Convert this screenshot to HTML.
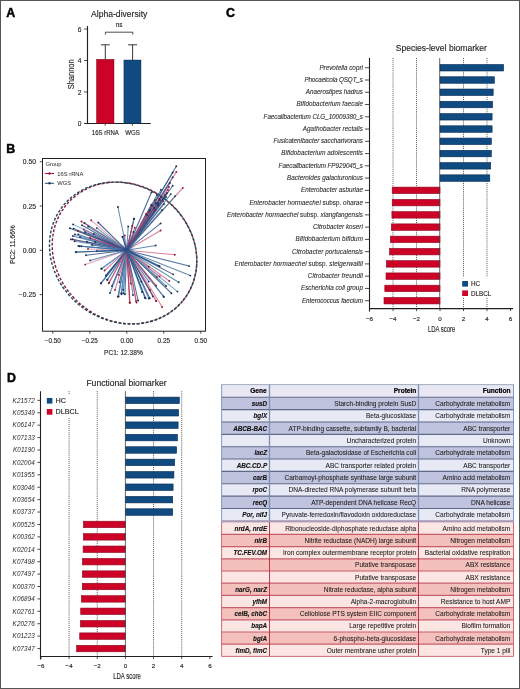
<!DOCTYPE html>
<html><head><meta charset="utf-8"><style>
html,body{margin:0;padding:0;background:#fff;}
body{width:520px;height:689px;overflow:hidden;position:relative;}
svg{position:absolute;left:0;top:0;font-family:"Liberation Sans", sans-serif;will-change:transform;}
.frame{position:absolute;left:0;top:0;width:518px;height:687px;border:1px solid #555;}
</style></head><body>
<svg width="520" height="689" viewBox="0 0 520 689">
<rect x="0" y="0" width="520" height="689" fill="#fff"/>
<text x="6.30" y="16.90" font-size="12.4" text-anchor="start" font-weight="bold" font-style="normal" fill="#000" stroke="#000" stroke-width="0.45">A</text>
<text x="6.30" y="152.60" font-size="12.4" text-anchor="start" font-weight="bold" font-style="normal" fill="#000" stroke="#000" stroke-width="0.45">B</text>
<text x="226.10" y="17.00" font-size="12.4" text-anchor="start" font-weight="bold" font-style="normal" fill="#000" stroke="#000" stroke-width="0.45">C</text>
<text x="7.00" y="381.90" font-size="12.4" text-anchor="start" font-weight="bold" font-style="normal" fill="#000" stroke="#000" stroke-width="0.45">D</text>
<text x="119.20" y="17.00" font-size="8.6" text-anchor="middle" font-weight="normal" font-style="normal" fill="#231f20"  stroke="#231f20" stroke-width="0.14">Alpha-diversity</text>
<line x1="87.50" y1="26.00" x2="87.50" y2="124.10" stroke="#231f20" stroke-width="1.15" />
<line x1="84.70" y1="123.50" x2="150.80" y2="123.50" stroke="#231f20" stroke-width="1.15" />
<line x1="84.00" y1="123.50" x2="87.00" y2="123.50" stroke="#231f20" stroke-width="0.8" />
<text x="81.40" y="126.10" font-size="6.7" text-anchor="end" font-weight="normal" font-style="normal" fill="#231f20"  stroke="#231f20" stroke-width="0.14">0</text>
<line x1="84.00" y1="92.00" x2="87.00" y2="92.00" stroke="#231f20" stroke-width="0.8" />
<text x="81.40" y="94.60" font-size="6.7" text-anchor="end" font-weight="normal" font-style="normal" fill="#231f20"  stroke="#231f20" stroke-width="0.14">2</text>
<line x1="84.00" y1="60.50" x2="87.00" y2="60.50" stroke="#231f20" stroke-width="0.8" />
<text x="81.40" y="63.10" font-size="6.7" text-anchor="end" font-weight="normal" font-style="normal" fill="#231f20"  stroke="#231f20" stroke-width="0.14">4</text>
<line x1="84.00" y1="29.00" x2="87.00" y2="29.00" stroke="#231f20" stroke-width="0.8" />
<text x="81.40" y="31.60" font-size="6.7" text-anchor="end" font-weight="normal" font-style="normal" fill="#231f20"  stroke="#231f20" stroke-width="0.14">6</text>
<text x="0.00" y="0.00" font-size="9.8" text-anchor="middle" font-weight="normal" font-style="normal" fill="#231f20" textLength="30.0" lengthAdjust="spacingAndGlyphs" transform="translate(73.6,74.3) rotate(-90)" stroke="#231f20" stroke-width="0.14">Shannon</text>
<rect x="96.50" y="59.30" width="17.50" height="64.20" fill="#cc0226" stroke="#5a0010" stroke-width="0.4"/>
<rect x="123.90" y="60.00" width="17.10" height="63.50" fill="#0f4a80" stroke="#0a2a4a" stroke-width="0.4"/>
<line x1="105.30" y1="44.80" x2="105.30" y2="59.30" stroke="#231f20" stroke-width="0.9" />
<line x1="100.90" y1="44.80" x2="109.80" y2="44.80" stroke="#231f20" stroke-width="0.9" />
<line x1="132.60" y1="44.80" x2="132.60" y2="60.00" stroke="#231f20" stroke-width="0.9" />
<line x1="128.10" y1="44.80" x2="137.10" y2="44.80" stroke="#231f20" stroke-width="0.9" />
<line x1="105.20" y1="123.50" x2="105.20" y2="125.80" stroke="#231f20" stroke-width="0.8" />
<line x1="132.40" y1="123.50" x2="132.40" y2="125.80" stroke="#231f20" stroke-width="0.8" />
<text x="105.30" y="135.30" font-size="6.8" text-anchor="middle" font-weight="normal" font-style="normal" fill="#231f20" textLength="27" lengthAdjust="spacingAndGlyphs" stroke="#231f20" stroke-width="0.14">16S rRNA</text>
<text x="132.50" y="135.30" font-size="6.8" text-anchor="middle" font-weight="normal" font-style="normal" fill="#231f20" textLength="14.6" lengthAdjust="spacingAndGlyphs" stroke="#231f20" stroke-width="0.14">WGS</text>
<polyline points="105.4,34.6 105.4,32.2 132.8,32.2 132.8,34.6" fill="none" stroke="#231f20" stroke-width="0.8"/>
<text x="119.00" y="26.80" font-size="6.3" text-anchor="middle" font-weight="normal" font-style="normal" fill="#231f20"  stroke="#231f20" stroke-width="0.14">ns</text>
<ellipse cx="124.5" cy="253.0" rx="75.5" ry="67.5" transform="rotate(40 124.5 253.0)" fill="none" stroke="#8a1a40" stroke-width="1.4" stroke-dasharray="2.8 1.7"/>
<g transform="translate(197.5,0) scale(1.0186,1) translate(-197.5,0)"><ellipse cx="124.5" cy="253.0" rx="75.5" ry="67.5" transform="rotate(40 124.5 253.0)" fill="none" stroke="#1f4a58" stroke-width="1.4" stroke-dasharray="2.8 1.7" stroke-dashoffset="1.4"/></g>
<g>
<line x1="126.80" y1="250.30" x2="174.80" y2="254.80" stroke="#d0607f" stroke-width="1.05" stroke-opacity="0.8"/>
<line x1="126.80" y1="250.30" x2="133.80" y2="218.80" stroke="#3d6e9e" stroke-width="1.05" stroke-opacity="0.8"/>
<line x1="126.80" y1="250.30" x2="148.80" y2="281.60" stroke="#3d6e9e" stroke-width="1.05" stroke-opacity="0.8"/>
<line x1="126.80" y1="250.30" x2="172.70" y2="177.30" stroke="#1d3f78" stroke-width="1.05" stroke-opacity="0.8"/>
<line x1="126.80" y1="250.30" x2="176.30" y2="172.00" stroke="#d0607f" stroke-width="1.05" stroke-opacity="0.8"/>
<line x1="126.80" y1="250.30" x2="119.50" y2="282.30" stroke="#244a8a" stroke-width="1.05" stroke-opacity="0.8"/>
<line x1="126.80" y1="250.30" x2="121.30" y2="293.20" stroke="#244a8a" stroke-width="1.05" stroke-opacity="0.8"/>
<line x1="126.80" y1="250.30" x2="133.50" y2="232.00" stroke="#5a8fbf" stroke-width="1.05" stroke-opacity="0.8"/>
<line x1="126.80" y1="250.30" x2="130.00" y2="302.80" stroke="#b83058" stroke-width="1.05" stroke-opacity="0.8"/>
<line x1="126.80" y1="250.30" x2="78.00" y2="231.00" stroke="#c8507a" stroke-width="1.05" stroke-opacity="0.8"/>
<line x1="126.80" y1="250.30" x2="88.00" y2="249.00" stroke="#e08aa8" stroke-width="1.05" stroke-opacity="0.8"/>
<line x1="126.80" y1="250.30" x2="84.50" y2="223.00" stroke="#244a8a" stroke-width="1.05" stroke-opacity="0.8"/>
<line x1="126.80" y1="250.30" x2="147.00" y2="215.00" stroke="#2f7f96" stroke-width="1.05" stroke-opacity="0.8"/>
<line x1="126.80" y1="250.30" x2="190.30" y2="275.60" stroke="#3d6e9e" stroke-width="1.05" stroke-opacity="0.8"/>
<line x1="126.80" y1="250.30" x2="124.80" y2="235.40" stroke="#e08aa8" stroke-width="1.05" stroke-opacity="0.8"/>
<line x1="126.80" y1="250.30" x2="142.00" y2="292.00" stroke="#2f7f96" stroke-width="1.05" stroke-opacity="0.8"/>
<line x1="126.80" y1="250.30" x2="169.30" y2="281.00" stroke="#d0607f" stroke-width="1.05" stroke-opacity="0.8"/>
<line x1="126.80" y1="250.30" x2="106.00" y2="275.60" stroke="#244a8a" stroke-width="1.05" stroke-opacity="0.8"/>
<line x1="126.80" y1="250.30" x2="128.20" y2="226.50" stroke="#3b6fa0" stroke-width="1.05" stroke-opacity="0.8"/>
<line x1="126.80" y1="250.30" x2="78.30" y2="234.50" stroke="#3b6fa0" stroke-width="1.05" stroke-opacity="0.8"/>
<line x1="126.80" y1="250.30" x2="91.20" y2="220.30" stroke="#e08aa8" stroke-width="1.05" stroke-opacity="0.8"/>
<line x1="126.80" y1="250.30" x2="151.50" y2="204.70" stroke="#244a8a" stroke-width="1.05" stroke-opacity="0.8"/>
<line x1="126.80" y1="250.30" x2="118.60" y2="296.40" stroke="#3d6e9e" stroke-width="1.05" stroke-opacity="0.8"/>
<line x1="126.80" y1="250.30" x2="136.00" y2="301.10" stroke="#c8507a" stroke-width="1.05" stroke-opacity="0.8"/>
<line x1="126.80" y1="250.30" x2="149.80" y2="298.20" stroke="#1d3f78" stroke-width="1.05" stroke-opacity="0.8"/>
<line x1="126.80" y1="250.30" x2="107.40" y2="279.90" stroke="#5a8fbf" stroke-width="1.05" stroke-opacity="0.8"/>
<line x1="126.80" y1="250.30" x2="79.50" y2="246.20" stroke="#5a8fbf" stroke-width="1.05" stroke-opacity="0.8"/>
<line x1="126.80" y1="250.30" x2="156.90" y2="276.90" stroke="#d0607f" stroke-width="1.05" stroke-opacity="0.8"/>
<line x1="126.80" y1="250.30" x2="93.70" y2="233.80" stroke="#244a8a" stroke-width="1.05" stroke-opacity="0.8"/>
<line x1="126.80" y1="250.30" x2="117.90" y2="207.00" stroke="#3b6fa0" stroke-width="1.05" stroke-opacity="0.8"/>
<line x1="126.80" y1="250.30" x2="82.00" y2="225.20" stroke="#27497f" stroke-width="1.05" stroke-opacity="0.8"/>
<line x1="126.80" y1="250.30" x2="73.60" y2="228.60" stroke="#3d6e9e" stroke-width="1.05" stroke-opacity="0.8"/>
<line x1="126.80" y1="250.30" x2="101.70" y2="268.80" stroke="#3d6e9e" stroke-width="1.05" stroke-opacity="0.8"/>
<line x1="126.80" y1="250.30" x2="150.00" y2="290.00" stroke="#d0607f" stroke-width="1.05" stroke-opacity="0.8"/>
<line x1="126.80" y1="250.30" x2="158.00" y2="205.00" stroke="#5a8fbf" stroke-width="1.05" stroke-opacity="0.8"/>
<line x1="126.80" y1="250.30" x2="155.00" y2="210.00" stroke="#b83058" stroke-width="1.05" stroke-opacity="0.8"/>
<line x1="126.80" y1="250.30" x2="101.10" y2="283.40" stroke="#5a8fbf" stroke-width="1.05" stroke-opacity="0.8"/>
<line x1="126.80" y1="250.30" x2="178.70" y2="282.20" stroke="#2f7f96" stroke-width="1.05" stroke-opacity="0.8"/>
<line x1="126.80" y1="250.30" x2="144.80" y2="297.80" stroke="#2f7f96" stroke-width="1.05" stroke-opacity="0.8"/>
<line x1="126.80" y1="250.30" x2="101.20" y2="268.80" stroke="#5a8fbf" stroke-width="1.05" stroke-opacity="0.8"/>
<line x1="126.80" y1="250.30" x2="171.30" y2="293.20" stroke="#1d3f78" stroke-width="1.05" stroke-opacity="0.8"/>
<line x1="126.80" y1="250.30" x2="168.00" y2="190.00" stroke="#e08aa8" stroke-width="1.05" stroke-opacity="0.8"/>
<line x1="126.80" y1="250.30" x2="86.90" y2="241.80" stroke="#3d6e9e" stroke-width="1.05" stroke-opacity="0.8"/>
<line x1="126.80" y1="250.30" x2="112.00" y2="286.00" stroke="#244a8a" stroke-width="1.05" stroke-opacity="0.8"/>
<line x1="126.80" y1="250.30" x2="69.90" y2="228.30" stroke="#27497f" stroke-width="1.05" stroke-opacity="0.8"/>
<line x1="126.80" y1="250.30" x2="124.90" y2="294.20" stroke="#27497f" stroke-width="1.05" stroke-opacity="0.8"/>
<line x1="126.80" y1="250.30" x2="150.00" y2="210.00" stroke="#1d3f78" stroke-width="1.05" stroke-opacity="0.8"/>
<line x1="126.80" y1="250.30" x2="105.80" y2="275.60" stroke="#1d3f78" stroke-width="1.05" stroke-opacity="0.8"/>
<line x1="126.80" y1="250.30" x2="146.00" y2="214.00" stroke="#b83058" stroke-width="1.05" stroke-opacity="0.8"/>
<line x1="126.80" y1="250.30" x2="156.00" y2="300.90" stroke="#e08aa8" stroke-width="1.05" stroke-opacity="0.8"/>
<line x1="126.80" y1="250.30" x2="133.00" y2="295.00" stroke="#3d6e9e" stroke-width="1.05" stroke-opacity="0.8"/>
<line x1="126.80" y1="250.30" x2="170.00" y2="183.00" stroke="#27497f" stroke-width="1.05" stroke-opacity="0.8"/>
<line x1="126.80" y1="250.30" x2="83.80" y2="229.50" stroke="#b83058" stroke-width="1.05" stroke-opacity="0.8"/>
<line x1="126.80" y1="250.30" x2="121.50" y2="294.20" stroke="#5a8fbf" stroke-width="1.05" stroke-opacity="0.8"/>
<line x1="126.80" y1="250.30" x2="130.70" y2="283.60" stroke="#b83058" stroke-width="1.05" stroke-opacity="0.8"/>
<line x1="126.80" y1="250.30" x2="172.70" y2="172.50" stroke="#3b6fa0" stroke-width="1.05" stroke-opacity="0.8"/>
<line x1="126.80" y1="250.30" x2="176.30" y2="166.30" stroke="#244a8a" stroke-width="1.05" stroke-opacity="0.8"/>
<line x1="126.80" y1="250.30" x2="81.40" y2="246.20" stroke="#2f7f96" stroke-width="1.05" stroke-opacity="0.8"/>
<line x1="126.80" y1="250.30" x2="163.60" y2="296.40" stroke="#27497f" stroke-width="1.05" stroke-opacity="0.8"/>
<line x1="126.80" y1="250.30" x2="163.00" y2="201.00" stroke="#c8507a" stroke-width="1.05" stroke-opacity="0.8"/>
<line x1="126.80" y1="250.30" x2="148.80" y2="266.80" stroke="#c8507a" stroke-width="1.05" stroke-opacity="0.8"/>
<line x1="126.80" y1="250.30" x2="156.00" y2="203.00" stroke="#2f7f96" stroke-width="1.05" stroke-opacity="0.8"/>
<line x1="126.80" y1="250.30" x2="151.40" y2="204.90" stroke="#2f7f96" stroke-width="1.05" stroke-opacity="0.8"/>
<line x1="126.80" y1="250.30" x2="163.80" y2="297.00" stroke="#5a8fbf" stroke-width="1.05" stroke-opacity="0.8"/>
<line x1="126.80" y1="250.30" x2="141.40" y2="281.60" stroke="#27497f" stroke-width="1.05" stroke-opacity="0.8"/>
<line x1="126.80" y1="250.30" x2="170.80" y2="194.10" stroke="#3b6fa0" stroke-width="1.05" stroke-opacity="0.8"/>
<line x1="126.80" y1="250.30" x2="85.20" y2="264.60" stroke="#e08aa8" stroke-width="1.05" stroke-opacity="0.8"/>
<line x1="126.80" y1="250.30" x2="134.80" y2="227.70" stroke="#d0607f" stroke-width="1.05" stroke-opacity="0.8"/>
<line x1="126.80" y1="250.30" x2="96.80" y2="228.10" stroke="#2f7f96" stroke-width="1.05" stroke-opacity="0.8"/>
<line x1="126.80" y1="250.30" x2="76.10" y2="252.30" stroke="#2f7f96" stroke-width="1.05" stroke-opacity="0.8"/>
<line x1="126.80" y1="250.30" x2="182.80" y2="187.90" stroke="#c8507a" stroke-width="1.05" stroke-opacity="0.8"/>
<line x1="126.80" y1="250.30" x2="158.00" y2="203.00" stroke="#27497f" stroke-width="1.05" stroke-opacity="0.8"/>
<line x1="126.80" y1="250.30" x2="166.00" y2="197.00" stroke="#27497f" stroke-width="1.05" stroke-opacity="0.8"/>
<line x1="126.80" y1="250.30" x2="155.00" y2="200.00" stroke="#d0607f" stroke-width="1.05" stroke-opacity="0.8"/>
<line x1="126.80" y1="250.30" x2="118.60" y2="274.90" stroke="#e08aa8" stroke-width="1.05" stroke-opacity="0.8"/>
<line x1="126.80" y1="250.30" x2="74.90" y2="234.50" stroke="#5a8fbf" stroke-width="1.05" stroke-opacity="0.8"/>
<line x1="126.80" y1="250.30" x2="172.70" y2="185.80" stroke="#27497f" stroke-width="1.05" stroke-opacity="0.8"/>
<line x1="126.80" y1="250.30" x2="95.00" y2="242.00" stroke="#3d6e9e" stroke-width="1.05" stroke-opacity="0.8"/>
<line x1="126.80" y1="250.30" x2="134.20" y2="218.70" stroke="#3d6e9e" stroke-width="1.05" stroke-opacity="0.8"/>
<line x1="126.80" y1="250.30" x2="104.60" y2="270.50" stroke="#d0607f" stroke-width="1.05" stroke-opacity="0.8"/>
<line x1="126.80" y1="250.30" x2="107.20" y2="279.80" stroke="#3b6fa0" stroke-width="1.05" stroke-opacity="0.8"/>
<line x1="126.80" y1="250.30" x2="90.20" y2="260.40" stroke="#3d6e9e" stroke-width="1.05" stroke-opacity="0.8"/>
<line x1="126.80" y1="250.30" x2="189.10" y2="266.10" stroke="#244a8a" stroke-width="1.05" stroke-opacity="0.8"/>
<line x1="126.80" y1="250.30" x2="78.40" y2="246.00" stroke="#3d6e9e" stroke-width="1.05" stroke-opacity="0.8"/>
<line x1="126.80" y1="250.30" x2="70.90" y2="239.40" stroke="#d0607f" stroke-width="1.05" stroke-opacity="0.8"/>
<line x1="126.80" y1="250.30" x2="162.20" y2="307.00" stroke="#d0607f" stroke-width="1.05" stroke-opacity="0.8"/>
<line x1="126.80" y1="250.30" x2="81.40" y2="221.50" stroke="#d0607f" stroke-width="1.05" stroke-opacity="0.8"/>
<line x1="126.80" y1="250.30" x2="72.80" y2="235.90" stroke="#3b6fa0" stroke-width="1.05" stroke-opacity="0.8"/>
<line x1="126.80" y1="250.30" x2="155.70" y2="245.50" stroke="#3d6e9e" stroke-width="1.05" stroke-opacity="0.8"/>
<line x1="126.80" y1="250.30" x2="156.20" y2="285.70" stroke="#b83058" stroke-width="1.05" stroke-opacity="0.8"/>
<line x1="126.80" y1="250.30" x2="108.80" y2="283.20" stroke="#c8507a" stroke-width="1.05" stroke-opacity="0.8"/>
<line x1="126.80" y1="250.30" x2="156.20" y2="301.10" stroke="#d0607f" stroke-width="1.05" stroke-opacity="0.8"/>
<line x1="126.80" y1="250.30" x2="159.60" y2="266.20" stroke="#3b6fa0" stroke-width="1.05" stroke-opacity="0.8"/>
<line x1="126.80" y1="250.30" x2="152.90" y2="296.40" stroke="#244a8a" stroke-width="1.05" stroke-opacity="0.8"/>
<line x1="126.80" y1="250.30" x2="122.60" y2="236.90" stroke="#3d6e9e" stroke-width="1.05" stroke-opacity="0.8"/>
<line x1="126.80" y1="250.30" x2="160.60" y2="230.50" stroke="#d0607f" stroke-width="1.05" stroke-opacity="0.8"/>
<line x1="126.80" y1="250.30" x2="96.80" y2="251.10" stroke="#244a8a" stroke-width="1.05" stroke-opacity="0.8"/>
<line x1="126.80" y1="250.30" x2="86.00" y2="255.30" stroke="#27497f" stroke-width="1.05" stroke-opacity="0.8"/>
<line x1="126.80" y1="250.30" x2="136.50" y2="302.50" stroke="#c8507a" stroke-width="1.05" stroke-opacity="0.8"/>
<line x1="126.80" y1="250.30" x2="159.00" y2="199.00" stroke="#d0607f" stroke-width="1.05" stroke-opacity="0.8"/>
<line x1="126.80" y1="250.30" x2="72.50" y2="239.20" stroke="#1d3f78" stroke-width="1.05" stroke-opacity="0.8"/>
<line x1="126.80" y1="250.30" x2="175.10" y2="196.10" stroke="#2f7f96" stroke-width="1.05" stroke-opacity="0.8"/>
<line x1="126.80" y1="250.30" x2="160.00" y2="200.00" stroke="#1d3f78" stroke-width="1.05" stroke-opacity="0.8"/>
<line x1="126.80" y1="250.30" x2="100.90" y2="283.20" stroke="#27497f" stroke-width="1.05" stroke-opacity="0.8"/>
<line x1="126.80" y1="250.30" x2="160.60" y2="223.40" stroke="#244a8a" stroke-width="1.05" stroke-opacity="0.8"/>
<line x1="126.80" y1="250.30" x2="154.00" y2="208.00" stroke="#3d6e9e" stroke-width="1.05" stroke-opacity="0.8"/>
<line x1="126.80" y1="250.30" x2="165.00" y2="195.00" stroke="#5a8fbf" stroke-width="1.05" stroke-opacity="0.8"/>
<line x1="126.80" y1="250.30" x2="164.00" y2="204.00" stroke="#27497f" stroke-width="1.05" stroke-opacity="0.8"/>
<line x1="126.80" y1="250.30" x2="157.00" y2="195.00" stroke="#3b6fa0" stroke-width="1.05" stroke-opacity="0.8"/>
<line x1="126.80" y1="250.30" x2="80.00" y2="237.00" stroke="#3d6e9e" stroke-width="1.05" stroke-opacity="0.8"/>
<line x1="126.80" y1="250.30" x2="163.00" y2="198.50" stroke="#2f7f96" stroke-width="1.05" stroke-opacity="0.8"/>
<line x1="126.80" y1="250.30" x2="138.10" y2="300.50" stroke="#27497f" stroke-width="1.05" stroke-opacity="0.8"/>
<line x1="126.80" y1="250.30" x2="117.80" y2="296.80" stroke="#3d6e9e" stroke-width="1.05" stroke-opacity="0.8"/>
<line x1="126.80" y1="250.30" x2="123.30" y2="289.70" stroke="#5a8fbf" stroke-width="1.05" stroke-opacity="0.8"/>
<line x1="126.80" y1="250.30" x2="92.00" y2="245.00" stroke="#1d3f78" stroke-width="1.05" stroke-opacity="0.8"/>
<line x1="126.80" y1="250.30" x2="167.00" y2="193.00" stroke="#1d3f78" stroke-width="1.05" stroke-opacity="0.8"/>
<line x1="126.80" y1="250.30" x2="90.00" y2="238.00" stroke="#b83058" stroke-width="1.05" stroke-opacity="0.8"/>
<line x1="126.80" y1="250.30" x2="122.50" y2="236.70" stroke="#244a8a" stroke-width="1.05" stroke-opacity="0.8"/>
<line x1="126.80" y1="250.30" x2="161.00" y2="189.80" stroke="#3b6fa0" stroke-width="1.05" stroke-opacity="0.8"/>
<line x1="126.80" y1="250.30" x2="132.30" y2="225.80" stroke="#b83058" stroke-width="1.05" stroke-opacity="0.8"/>
<line x1="126.80" y1="250.30" x2="169.00" y2="187.00" stroke="#c8507a" stroke-width="1.05" stroke-opacity="0.8"/>
<line x1="126.80" y1="250.30" x2="158.40" y2="265.60" stroke="#244a8a" stroke-width="1.05" stroke-opacity="0.8"/>
<line x1="126.80" y1="250.30" x2="88.20" y2="226.50" stroke="#5a8fbf" stroke-width="1.05" stroke-opacity="0.8"/>
<line x1="126.80" y1="250.30" x2="74.60" y2="241.20" stroke="#5a8fbf" stroke-width="1.05" stroke-opacity="0.8"/>
<line x1="126.80" y1="250.30" x2="115.00" y2="290.00" stroke="#d0607f" stroke-width="1.05" stroke-opacity="0.8"/>
<line x1="126.80" y1="250.30" x2="145.60" y2="298.20" stroke="#244a8a" stroke-width="1.05" stroke-opacity="0.8"/>
<line x1="126.80" y1="250.30" x2="123.30" y2="293.20" stroke="#5a8fbf" stroke-width="1.05" stroke-opacity="0.8"/>
<line x1="126.80" y1="250.30" x2="148.80" y2="298.50" stroke="#3d6e9e" stroke-width="1.05" stroke-opacity="0.8"/>
<line x1="126.80" y1="250.30" x2="73.10" y2="224.40" stroke="#5a8fbf" stroke-width="1.05" stroke-opacity="0.8"/>
<line x1="126.80" y1="250.30" x2="159.70" y2="276.40" stroke="#e08aa8" stroke-width="1.05" stroke-opacity="0.8"/>
<line x1="126.80" y1="250.30" x2="152.00" y2="206.00" stroke="#b83058" stroke-width="1.05" stroke-opacity="0.8"/>
<line x1="126.80" y1="250.30" x2="98.20" y2="222.50" stroke="#1d3f78" stroke-width="1.05" stroke-opacity="0.8"/>
<line x1="126.80" y1="250.30" x2="109.10" y2="282.60" stroke="#c8507a" stroke-width="1.05" stroke-opacity="0.8"/>
<line x1="126.80" y1="250.30" x2="166.00" y2="286.00" stroke="#2f7f96" stroke-width="1.05" stroke-opacity="0.8"/>
<line x1="126.80" y1="250.30" x2="85.00" y2="232.00" stroke="#1d3f78" stroke-width="1.05" stroke-opacity="0.8"/>
<line x1="126.80" y1="250.30" x2="173.20" y2="274.40" stroke="#1d3f78" stroke-width="1.05" stroke-opacity="0.8"/>
<line x1="126.80" y1="250.30" x2="149.00" y2="212.00" stroke="#c8507a" stroke-width="1.05" stroke-opacity="0.8"/>
<line x1="126.80" y1="250.30" x2="129.60" y2="302.80" stroke="#b83058" stroke-width="1.05" stroke-opacity="0.8"/>
<line x1="126.80" y1="250.30" x2="151.50" y2="192.20" stroke="#1d3f78" stroke-width="1.05" stroke-opacity="0.8"/>
<line x1="126.80" y1="250.30" x2="161.00" y2="197.00" stroke="#27497f" stroke-width="1.05" stroke-opacity="0.8"/>
<line x1="126.80" y1="250.30" x2="177.50" y2="291.60" stroke="#5a8fbf" stroke-width="1.05" stroke-opacity="0.8"/>
<line x1="126.80" y1="250.30" x2="162.00" y2="210.00" stroke="#3b6fa0" stroke-width="1.05" stroke-opacity="0.8"/>
<line x1="126.80" y1="250.30" x2="75.80" y2="251.90" stroke="#244a8a" stroke-width="1.05" stroke-opacity="0.8"/>
<line x1="126.80" y1="250.30" x2="110.00" y2="293.00" stroke="#3d6e9e" stroke-width="1.05" stroke-opacity="0.8"/>
</g>
<defs><radialGradient id="cg"><stop offset="0" stop-color="#1d3f78" stop-opacity="0.75"/><stop offset="0.5" stop-color="#24508a" stop-opacity="0.35"/><stop offset="1" stop-color="#24508a" stop-opacity="0"/></radialGradient></defs><circle cx="126.8" cy="250.3" r="8" fill="url(#cg)"/>
<circle cx="174.80" cy="254.80" r="0.95" fill="#8a1a30"/>
<circle cx="133.80" cy="218.80" r="0.95" fill="#1a2f55"/>
<circle cx="148.80" cy="281.60" r="0.95" fill="#1a2f55"/>
<circle cx="172.70" cy="177.30" r="0.95" fill="#1a2f55"/>
<circle cx="176.30" cy="172.00" r="0.95" fill="#8a1a30"/>
<circle cx="119.50" cy="282.30" r="0.95" fill="#1a2f55"/>
<circle cx="121.30" cy="293.20" r="0.95" fill="#1a2f55"/>
<circle cx="133.50" cy="232.00" r="0.95" fill="#1a2f55"/>
<circle cx="130.00" cy="302.80" r="0.95" fill="#8a1a30"/>
<circle cx="78.00" cy="231.00" r="0.95" fill="#8a1a30"/>
<circle cx="88.00" cy="249.00" r="0.95" fill="#8a1a30"/>
<circle cx="84.50" cy="223.00" r="0.95" fill="#1a2f55"/>
<circle cx="147.00" cy="215.00" r="0.95" fill="#1a2f55"/>
<circle cx="190.30" cy="275.60" r="0.95" fill="#1a2f55"/>
<circle cx="124.80" cy="235.40" r="0.95" fill="#8a1a30"/>
<circle cx="142.00" cy="292.00" r="0.95" fill="#1a2f55"/>
<circle cx="169.30" cy="281.00" r="0.95" fill="#8a1a30"/>
<circle cx="106.00" cy="275.60" r="0.95" fill="#1a2f55"/>
<circle cx="128.20" cy="226.50" r="0.95" fill="#1a2f55"/>
<circle cx="78.30" cy="234.50" r="0.95" fill="#1a2f55"/>
<circle cx="91.20" cy="220.30" r="0.95" fill="#8a1a30"/>
<circle cx="151.50" cy="204.70" r="0.95" fill="#1a2f55"/>
<circle cx="118.60" cy="296.40" r="0.95" fill="#1a2f55"/>
<circle cx="136.00" cy="301.10" r="0.95" fill="#8a1a30"/>
<circle cx="149.80" cy="298.20" r="0.95" fill="#1a2f55"/>
<circle cx="107.40" cy="279.90" r="0.95" fill="#1a2f55"/>
<circle cx="79.50" cy="246.20" r="0.95" fill="#1a2f55"/>
<circle cx="156.90" cy="276.90" r="0.95" fill="#8a1a30"/>
<circle cx="93.70" cy="233.80" r="0.95" fill="#1a2f55"/>
<circle cx="117.90" cy="207.00" r="0.95" fill="#1a2f55"/>
<circle cx="82.00" cy="225.20" r="0.95" fill="#1a2f55"/>
<circle cx="73.60" cy="228.60" r="0.95" fill="#1a2f55"/>
<circle cx="101.70" cy="268.80" r="0.95" fill="#1a2f55"/>
<circle cx="150.00" cy="290.00" r="0.95" fill="#8a1a30"/>
<circle cx="158.00" cy="205.00" r="0.95" fill="#1a2f55"/>
<circle cx="155.00" cy="210.00" r="0.95" fill="#8a1a30"/>
<circle cx="101.10" cy="283.40" r="0.95" fill="#1a2f55"/>
<circle cx="178.70" cy="282.20" r="0.95" fill="#1a2f55"/>
<circle cx="144.80" cy="297.80" r="0.95" fill="#1a2f55"/>
<circle cx="101.20" cy="268.80" r="0.95" fill="#1a2f55"/>
<circle cx="171.30" cy="293.20" r="0.95" fill="#1a2f55"/>
<circle cx="168.00" cy="190.00" r="0.95" fill="#8a1a30"/>
<circle cx="86.90" cy="241.80" r="0.95" fill="#1a2f55"/>
<circle cx="112.00" cy="286.00" r="0.95" fill="#1a2f55"/>
<circle cx="69.90" cy="228.30" r="0.95" fill="#1a2f55"/>
<circle cx="124.90" cy="294.20" r="0.95" fill="#1a2f55"/>
<circle cx="150.00" cy="210.00" r="0.95" fill="#1a2f55"/>
<circle cx="105.80" cy="275.60" r="0.95" fill="#1a2f55"/>
<circle cx="146.00" cy="214.00" r="0.95" fill="#8a1a30"/>
<circle cx="156.00" cy="300.90" r="0.95" fill="#8a1a30"/>
<circle cx="133.00" cy="295.00" r="0.95" fill="#1a2f55"/>
<circle cx="170.00" cy="183.00" r="0.95" fill="#1a2f55"/>
<circle cx="83.80" cy="229.50" r="0.95" fill="#8a1a30"/>
<circle cx="121.50" cy="294.20" r="0.95" fill="#1a2f55"/>
<circle cx="130.70" cy="283.60" r="0.95" fill="#8a1a30"/>
<circle cx="172.70" cy="172.50" r="0.95" fill="#1a2f55"/>
<circle cx="176.30" cy="166.30" r="0.95" fill="#1a2f55"/>
<circle cx="81.40" cy="246.20" r="0.95" fill="#1a2f55"/>
<circle cx="163.60" cy="296.40" r="0.95" fill="#1a2f55"/>
<circle cx="163.00" cy="201.00" r="0.95" fill="#8a1a30"/>
<circle cx="148.80" cy="266.80" r="0.95" fill="#8a1a30"/>
<circle cx="156.00" cy="203.00" r="0.95" fill="#1a2f55"/>
<circle cx="151.40" cy="204.90" r="0.95" fill="#1a2f55"/>
<circle cx="163.80" cy="297.00" r="0.95" fill="#1a2f55"/>
<circle cx="141.40" cy="281.60" r="0.95" fill="#1a2f55"/>
<circle cx="170.80" cy="194.10" r="0.95" fill="#1a2f55"/>
<circle cx="85.20" cy="264.60" r="0.95" fill="#8a1a30"/>
<circle cx="134.80" cy="227.70" r="0.95" fill="#8a1a30"/>
<circle cx="96.80" cy="228.10" r="0.95" fill="#1a2f55"/>
<circle cx="76.10" cy="252.30" r="0.95" fill="#1a2f55"/>
<circle cx="182.80" cy="187.90" r="0.95" fill="#8a1a30"/>
<circle cx="158.00" cy="203.00" r="0.95" fill="#1a2f55"/>
<circle cx="166.00" cy="197.00" r="0.95" fill="#1a2f55"/>
<circle cx="155.00" cy="200.00" r="0.95" fill="#8a1a30"/>
<circle cx="118.60" cy="274.90" r="0.95" fill="#8a1a30"/>
<circle cx="74.90" cy="234.50" r="0.95" fill="#1a2f55"/>
<circle cx="172.70" cy="185.80" r="0.95" fill="#1a2f55"/>
<circle cx="95.00" cy="242.00" r="0.95" fill="#1a2f55"/>
<circle cx="134.20" cy="218.70" r="0.95" fill="#1a2f55"/>
<circle cx="104.60" cy="270.50" r="0.95" fill="#8a1a30"/>
<circle cx="107.20" cy="279.80" r="0.95" fill="#1a2f55"/>
<circle cx="90.20" cy="260.40" r="0.95" fill="#1a2f55"/>
<circle cx="189.10" cy="266.10" r="0.95" fill="#1a2f55"/>
<circle cx="78.40" cy="246.00" r="0.95" fill="#1a2f55"/>
<circle cx="70.90" cy="239.40" r="0.95" fill="#8a1a30"/>
<circle cx="162.20" cy="307.00" r="0.95" fill="#8a1a30"/>
<circle cx="81.40" cy="221.50" r="0.95" fill="#8a1a30"/>
<circle cx="72.80" cy="235.90" r="0.95" fill="#1a2f55"/>
<circle cx="155.70" cy="245.50" r="0.95" fill="#1a2f55"/>
<circle cx="156.20" cy="285.70" r="0.95" fill="#8a1a30"/>
<circle cx="108.80" cy="283.20" r="0.95" fill="#8a1a30"/>
<circle cx="156.20" cy="301.10" r="0.95" fill="#8a1a30"/>
<circle cx="159.60" cy="266.20" r="0.95" fill="#1a2f55"/>
<circle cx="152.90" cy="296.40" r="0.95" fill="#1a2f55"/>
<circle cx="122.60" cy="236.90" r="0.95" fill="#1a2f55"/>
<circle cx="160.60" cy="230.50" r="0.95" fill="#8a1a30"/>
<circle cx="96.80" cy="251.10" r="0.95" fill="#1a2f55"/>
<circle cx="86.00" cy="255.30" r="0.95" fill="#1a2f55"/>
<circle cx="136.50" cy="302.50" r="0.95" fill="#8a1a30"/>
<circle cx="159.00" cy="199.00" r="0.95" fill="#8a1a30"/>
<circle cx="72.50" cy="239.20" r="0.95" fill="#1a2f55"/>
<circle cx="175.10" cy="196.10" r="0.95" fill="#1a2f55"/>
<circle cx="160.00" cy="200.00" r="0.95" fill="#1a2f55"/>
<circle cx="100.90" cy="283.20" r="0.95" fill="#1a2f55"/>
<circle cx="160.60" cy="223.40" r="0.95" fill="#1a2f55"/>
<circle cx="154.00" cy="208.00" r="0.95" fill="#1a2f55"/>
<circle cx="165.00" cy="195.00" r="0.95" fill="#1a2f55"/>
<circle cx="164.00" cy="204.00" r="0.95" fill="#1a2f55"/>
<circle cx="157.00" cy="195.00" r="0.95" fill="#1a2f55"/>
<circle cx="80.00" cy="237.00" r="0.95" fill="#1a2f55"/>
<circle cx="163.00" cy="198.50" r="0.95" fill="#1a2f55"/>
<circle cx="138.10" cy="300.50" r="0.95" fill="#1a2f55"/>
<circle cx="117.80" cy="296.80" r="0.95" fill="#1a2f55"/>
<circle cx="123.30" cy="289.70" r="0.95" fill="#1a2f55"/>
<circle cx="92.00" cy="245.00" r="0.95" fill="#1a2f55"/>
<circle cx="167.00" cy="193.00" r="0.95" fill="#1a2f55"/>
<circle cx="90.00" cy="238.00" r="0.95" fill="#8a1a30"/>
<circle cx="122.50" cy="236.70" r="0.95" fill="#1a2f55"/>
<circle cx="161.00" cy="189.80" r="0.95" fill="#1a2f55"/>
<circle cx="132.30" cy="225.80" r="0.95" fill="#8a1a30"/>
<circle cx="169.00" cy="187.00" r="0.95" fill="#8a1a30"/>
<circle cx="158.40" cy="265.60" r="0.95" fill="#1a2f55"/>
<circle cx="88.20" cy="226.50" r="0.95" fill="#1a2f55"/>
<circle cx="74.60" cy="241.20" r="0.95" fill="#1a2f55"/>
<circle cx="115.00" cy="290.00" r="0.95" fill="#8a1a30"/>
<circle cx="145.60" cy="298.20" r="0.95" fill="#1a2f55"/>
<circle cx="123.30" cy="293.20" r="0.95" fill="#1a2f55"/>
<circle cx="148.80" cy="298.50" r="0.95" fill="#1a2f55"/>
<circle cx="73.10" cy="224.40" r="0.95" fill="#1a2f55"/>
<circle cx="159.70" cy="276.40" r="0.95" fill="#8a1a30"/>
<circle cx="152.00" cy="206.00" r="0.95" fill="#8a1a30"/>
<circle cx="98.20" cy="222.50" r="0.95" fill="#1a2f55"/>
<circle cx="109.10" cy="282.60" r="0.95" fill="#8a1a30"/>
<circle cx="166.00" cy="286.00" r="0.95" fill="#1a2f55"/>
<circle cx="85.00" cy="232.00" r="0.95" fill="#1a2f55"/>
<circle cx="173.20" cy="274.40" r="0.95" fill="#1a2f55"/>
<circle cx="149.00" cy="212.00" r="0.95" fill="#8a1a30"/>
<circle cx="129.60" cy="302.80" r="0.95" fill="#8a1a30"/>
<circle cx="151.50" cy="192.20" r="0.95" fill="#1a2f55"/>
<circle cx="161.00" cy="197.00" r="0.95" fill="#1a2f55"/>
<circle cx="177.50" cy="291.60" r="0.95" fill="#1a2f55"/>
<circle cx="162.00" cy="210.00" r="0.95" fill="#1a2f55"/>
<circle cx="75.80" cy="251.90" r="0.95" fill="#1a2f55"/>
<circle cx="110.00" cy="293.00" r="0.95" fill="#1a2f55"/>
<rect x="42.5" y="158.5" width="163.0" height="172.7" fill="none" stroke="#231f20" stroke-width="1"/>
<line x1="52.80" y1="331.20" x2="52.80" y2="333.70" stroke="#231f20" stroke-width="0.8" />
<text x="52.80" y="342.70" font-size="6.4" text-anchor="middle" font-weight="normal" font-style="normal" fill="#231f20"  stroke="#231f20" stroke-width="0.14">−0.50</text>
<line x1="89.80" y1="331.20" x2="89.80" y2="333.70" stroke="#231f20" stroke-width="0.8" />
<text x="89.80" y="342.70" font-size="6.4" text-anchor="middle" font-weight="normal" font-style="normal" fill="#231f20"  stroke="#231f20" stroke-width="0.14">−0.25</text>
<line x1="39.70" y1="294.60" x2="42.50" y2="294.60" stroke="#231f20" stroke-width="0.8" />
<text x="36.00" y="297.10" font-size="6.8" text-anchor="end" font-weight="normal" font-style="normal" fill="#231f20"  stroke="#231f20" stroke-width="0.14">−0.25</text>
<line x1="126.80" y1="331.20" x2="126.80" y2="333.70" stroke="#231f20" stroke-width="0.8" />
<text x="126.80" y="342.70" font-size="6.4" text-anchor="middle" font-weight="normal" font-style="normal" fill="#231f20"  stroke="#231f20" stroke-width="0.14">0.00</text>
<line x1="39.70" y1="250.30" x2="42.50" y2="250.30" stroke="#231f20" stroke-width="0.8" />
<text x="36.00" y="252.80" font-size="6.8" text-anchor="end" font-weight="normal" font-style="normal" fill="#231f20"  stroke="#231f20" stroke-width="0.14">0.00</text>
<line x1="163.80" y1="331.20" x2="163.80" y2="333.70" stroke="#231f20" stroke-width="0.8" />
<text x="163.80" y="342.70" font-size="6.4" text-anchor="middle" font-weight="normal" font-style="normal" fill="#231f20"  stroke="#231f20" stroke-width="0.14">0.25</text>
<line x1="39.70" y1="206.00" x2="42.50" y2="206.00" stroke="#231f20" stroke-width="0.8" />
<text x="36.00" y="208.50" font-size="6.8" text-anchor="end" font-weight="normal" font-style="normal" fill="#231f20"  stroke="#231f20" stroke-width="0.14">0.25</text>
<line x1="200.80" y1="331.20" x2="200.80" y2="333.70" stroke="#231f20" stroke-width="0.8" />
<text x="200.80" y="342.70" font-size="6.4" text-anchor="middle" font-weight="normal" font-style="normal" fill="#231f20"  stroke="#231f20" stroke-width="0.14">0.50</text>
<line x1="39.70" y1="161.70" x2="42.50" y2="161.70" stroke="#231f20" stroke-width="0.8" />
<text x="36.00" y="164.20" font-size="6.8" text-anchor="end" font-weight="normal" font-style="normal" fill="#231f20"  stroke="#231f20" stroke-width="0.14">0.50</text>
<text x="123.40" y="355.00" font-size="7.4" text-anchor="middle" font-weight="normal" font-style="normal" fill="#231f20" textLength="38.8" lengthAdjust="spacingAndGlyphs" stroke="#231f20" stroke-width="0.14">PC1: 12.38%</text>
<text x="0.00" y="0.00" font-size="7.4" text-anchor="middle" font-weight="normal" font-style="normal" fill="#231f20" textLength="38.8" lengthAdjust="spacingAndGlyphs" transform="translate(15.2,244.6) rotate(-90)" stroke="#231f20" stroke-width="0.14">PC2: 11.66%</text>
<text x="45.40" y="166.30" font-size="5.8" text-anchor="start" font-weight="normal" font-style="normal" fill="#231f20" stroke="none">Group</text>
<line x1="44.90" y1="173.50" x2="54.00" y2="173.50" stroke="#cc0226" stroke-width="1" />
<circle cx="49.5" cy="173.5" r="1.2" fill="#8a1030"/>
<text x="57.30" y="175.80" font-size="5.8" text-anchor="start" font-weight="normal" font-style="normal" fill="#231f20" stroke="none">16S rRNA</text>
<line x1="44.90" y1="183.30" x2="54.00" y2="183.30" stroke="#1f4a78" stroke-width="1" />
<circle cx="49.5" cy="183.3" r="1.2" fill="#1f3a60"/>
<text x="57.30" y="185.10" font-size="5.8" text-anchor="start" font-weight="normal" font-style="normal" fill="#231f20" stroke="none">WGS</text>
<line x1="393.00" y1="58.00" x2="393.00" y2="308.60" stroke="#3a3a3a" stroke-width="0.85" stroke-dasharray="1 1.05"/>
<line x1="416.50" y1="58.00" x2="416.50" y2="308.60" stroke="#3a3a3a" stroke-width="0.85" stroke-dasharray="1 1.05"/>
<line x1="463.50" y1="58.00" x2="463.50" y2="308.60" stroke="#3a3a3a" stroke-width="0.85" stroke-dasharray="1 1.05"/>
<line x1="487.00" y1="58.00" x2="487.00" y2="308.60" stroke="#3a3a3a" stroke-width="0.85" stroke-dasharray="1 1.05"/>
<rect x="440.00" y="64.50" width="63.60" height="6.50" fill="#0f4a80" stroke="#082a55" stroke-width="0.6"/>
<line x1="365.00" y1="67.75" x2="370.00" y2="67.75" stroke="#231f20" stroke-width="0.8" />
<text x="362.90" y="69.65" font-size="6.3" text-anchor="end" font-weight="normal" font-style="italic" fill="#231f20" textLength="43.5" lengthAdjust="spacing" stroke="#333" stroke-width="0.08">Prevotella copri</text>
<rect x="440.00" y="76.76" width="54.40" height="6.50" fill="#0f4a80" stroke="#082a55" stroke-width="0.6"/>
<line x1="365.00" y1="80.01" x2="370.00" y2="80.01" stroke="#231f20" stroke-width="0.8" />
<text x="362.90" y="81.91" font-size="6.3" text-anchor="end" font-weight="normal" font-style="italic" fill="#231f20" textLength="58.5" lengthAdjust="spacing" stroke="#333" stroke-width="0.08">Phocaeicola QSQT_s</text>
<rect x="440.00" y="89.02" width="53.20" height="6.50" fill="#0f4a80" stroke="#082a55" stroke-width="0.6"/>
<line x1="365.00" y1="92.27" x2="370.00" y2="92.27" stroke="#231f20" stroke-width="0.8" />
<text x="362.90" y="94.17" font-size="6.3" text-anchor="end" font-weight="normal" font-style="italic" fill="#231f20" textLength="57.1" lengthAdjust="spacing" stroke="#333" stroke-width="0.08">Anaerostipes hadrus</text>
<rect x="440.00" y="101.28" width="52.60" height="6.50" fill="#0f4a80" stroke="#082a55" stroke-width="0.6"/>
<line x1="365.00" y1="104.53" x2="370.00" y2="104.53" stroke="#231f20" stroke-width="0.8" />
<text x="362.90" y="106.43" font-size="6.3" text-anchor="end" font-weight="normal" font-style="italic" fill="#231f20" textLength="66.3" lengthAdjust="spacing" stroke="#333" stroke-width="0.08">Bifidobacterium faecale</text>
<rect x="440.00" y="113.54" width="52.10" height="6.50" fill="#0f4a80" stroke="#082a55" stroke-width="0.6"/>
<line x1="365.00" y1="116.79" x2="370.00" y2="116.79" stroke="#231f20" stroke-width="0.8" />
<text x="362.90" y="118.69" font-size="6.3" text-anchor="end" font-weight="normal" font-style="italic" fill="#231f20" textLength="99.3" lengthAdjust="spacing" stroke="#333" stroke-width="0.08">Faecalibacterium CLG_10009380_s</text>
<rect x="440.00" y="125.80" width="52.10" height="6.50" fill="#0f4a80" stroke="#082a55" stroke-width="0.6"/>
<line x1="365.00" y1="129.05" x2="370.00" y2="129.05" stroke="#231f20" stroke-width="0.8" />
<text x="362.90" y="130.95" font-size="6.3" text-anchor="end" font-weight="normal" font-style="italic" fill="#231f20" textLength="60.1" lengthAdjust="spacing" stroke="#333" stroke-width="0.08">Agathobacter rectalis</text>
<rect x="440.00" y="138.06" width="51.30" height="6.50" fill="#0f4a80" stroke="#082a55" stroke-width="0.6"/>
<line x1="365.00" y1="141.31" x2="370.00" y2="141.31" stroke="#231f20" stroke-width="0.8" />
<text x="362.90" y="143.21" font-size="6.3" text-anchor="end" font-weight="normal" font-style="italic" fill="#231f20" textLength="89.4" lengthAdjust="spacing" stroke="#333" stroke-width="0.08">Fusicatenibacter saccharivorans</text>
<rect x="440.00" y="150.32" width="51.30" height="6.50" fill="#0f4a80" stroke="#082a55" stroke-width="0.6"/>
<line x1="365.00" y1="153.57" x2="370.00" y2="153.57" stroke="#231f20" stroke-width="0.8" />
<text x="362.90" y="155.47" font-size="6.3" text-anchor="end" font-weight="normal" font-style="italic" fill="#231f20" textLength="81.6" lengthAdjust="spacing" stroke="#333" stroke-width="0.08">Bifidobacterium adolescentis</text>
<rect x="440.00" y="162.58" width="50.70" height="6.50" fill="#0f4a80" stroke="#082a55" stroke-width="0.6"/>
<line x1="365.00" y1="165.83" x2="370.00" y2="165.83" stroke="#231f20" stroke-width="0.8" />
<text x="362.90" y="167.73" font-size="6.3" text-anchor="end" font-weight="normal" font-style="italic" fill="#231f20" textLength="84.3" lengthAdjust="spacing" stroke="#333" stroke-width="0.08">Faecalibacterium FP929045_s</text>
<rect x="440.00" y="174.84" width="49.80" height="6.50" fill="#0f4a80" stroke="#082a55" stroke-width="0.6"/>
<line x1="365.00" y1="178.09" x2="370.00" y2="178.09" stroke="#231f20" stroke-width="0.8" />
<text x="362.90" y="179.99" font-size="6.3" text-anchor="end" font-weight="normal" font-style="italic" fill="#231f20" textLength="75.8" lengthAdjust="spacing" stroke="#333" stroke-width="0.08">Bacteroides galacturonicus</text>
<rect x="392.20" y="187.10" width="47.80" height="6.50" fill="#cc0226" stroke="#8a0a20" stroke-width="0.6"/>
<line x1="365.00" y1="190.35" x2="370.00" y2="190.35" stroke="#231f20" stroke-width="0.8" />
<text x="362.90" y="192.25" font-size="6.3" text-anchor="end" font-weight="normal" font-style="italic" fill="#231f20" textLength="61.9" lengthAdjust="spacing" stroke="#333" stroke-width="0.08">Enterobacter asburiae</text>
<rect x="392.20" y="199.36" width="47.80" height="6.50" fill="#cc0226" stroke="#8a0a20" stroke-width="0.6"/>
<line x1="365.00" y1="202.61" x2="370.00" y2="202.61" stroke="#231f20" stroke-width="0.8" />
<text x="362.90" y="204.51" font-size="6.3" text-anchor="end" font-weight="normal" font-style="italic" fill="#231f20" textLength="113.5" lengthAdjust="spacing" stroke="#333" stroke-width="0.08">Enterobacter hormaechei <tspan font-style="normal">subsp.</tspan> oharae</text>
<rect x="391.90" y="211.62" width="48.10" height="6.50" fill="#cc0226" stroke="#8a0a20" stroke-width="0.6"/>
<line x1="365.00" y1="214.87" x2="370.00" y2="214.87" stroke="#231f20" stroke-width="0.8" />
<text x="362.90" y="216.77" font-size="6.3" text-anchor="end" font-weight="normal" font-style="italic" fill="#231f20" textLength="135.8" lengthAdjust="spacing" stroke="#333" stroke-width="0.08">Enterobacter hormaechei <tspan font-style="normal">subsp.</tspan> xiangfangensis</text>
<rect x="391.30" y="223.88" width="48.70" height="6.50" fill="#cc0226" stroke="#8a0a20" stroke-width="0.6"/>
<line x1="365.00" y1="227.13" x2="370.00" y2="227.13" stroke="#231f20" stroke-width="0.8" />
<text x="362.90" y="229.03" font-size="6.3" text-anchor="end" font-weight="normal" font-style="italic" fill="#231f20" textLength="50.0" lengthAdjust="spacing" stroke="#333" stroke-width="0.08">Citrobacter koseri</text>
<rect x="390.40" y="236.14" width="49.60" height="6.50" fill="#cc0226" stroke="#8a0a20" stroke-width="0.6"/>
<line x1="365.00" y1="239.39" x2="370.00" y2="239.39" stroke="#231f20" stroke-width="0.8" />
<text x="362.90" y="241.29" font-size="6.3" text-anchor="end" font-weight="normal" font-style="italic" fill="#231f20" textLength="67.3" lengthAdjust="spacing" stroke="#333" stroke-width="0.08">Bifidobacterium bifidum</text>
<rect x="389.60" y="248.40" width="50.40" height="6.50" fill="#cc0226" stroke="#8a0a20" stroke-width="0.6"/>
<line x1="365.00" y1="251.65" x2="370.00" y2="251.65" stroke="#231f20" stroke-width="0.8" />
<text x="362.90" y="253.55" font-size="6.3" text-anchor="end" font-weight="normal" font-style="italic" fill="#231f20" textLength="70.9" lengthAdjust="spacing" stroke="#333" stroke-width="0.08">Citrobacter portucalensis</text>
<rect x="386.40" y="260.66" width="53.60" height="6.50" fill="#cc0226" stroke="#8a0a20" stroke-width="0.6"/>
<line x1="365.00" y1="263.91" x2="370.00" y2="263.91" stroke="#231f20" stroke-width="0.8" />
<text x="362.90" y="265.81" font-size="6.3" text-anchor="end" font-weight="normal" font-style="italic" fill="#231f20" textLength="128.4" lengthAdjust="spacing" stroke="#333" stroke-width="0.08">Enterobacter hormaechei <tspan font-style="normal">subsp.</tspan> steigerwaltii</text>
<rect x="386.00" y="272.92" width="54.00" height="6.50" fill="#cc0226" stroke="#8a0a20" stroke-width="0.6"/>
<line x1="365.00" y1="276.17" x2="370.00" y2="276.17" stroke="#231f20" stroke-width="0.8" />
<text x="362.90" y="278.07" font-size="6.3" text-anchor="end" font-weight="normal" font-style="italic" fill="#231f20" textLength="55.1" lengthAdjust="spacing" stroke="#333" stroke-width="0.08">Citrobacter freundii</text>
<rect x="384.80" y="285.18" width="55.20" height="6.50" fill="#cc0226" stroke="#8a0a20" stroke-width="0.6"/>
<line x1="365.00" y1="288.43" x2="370.00" y2="288.43" stroke="#231f20" stroke-width="0.8" />
<text x="362.90" y="290.33" font-size="6.3" text-anchor="end" font-weight="normal" font-style="italic" fill="#231f20" textLength="61.9" lengthAdjust="spacing" stroke="#333" stroke-width="0.08">Escherichia coli group</text>
<rect x="384.00" y="297.44" width="56.00" height="6.50" fill="#cc0226" stroke="#8a0a20" stroke-width="0.6"/>
<line x1="365.00" y1="300.69" x2="370.00" y2="300.69" stroke="#231f20" stroke-width="0.8" />
<text x="362.90" y="302.59" font-size="6.3" text-anchor="end" font-weight="normal" font-style="italic" fill="#231f20" textLength="61.0" lengthAdjust="spacing" stroke="#333" stroke-width="0.08">Enterococcus faecium</text>
<line x1="439.70" y1="58.00" x2="439.70" y2="308.60" stroke="#444" stroke-width="0.8" />
<line x1="369.50" y1="58.00" x2="369.50" y2="311.60" stroke="#231f20" stroke-width="1.1" />
<line x1="369.50" y1="308.60" x2="513.00" y2="308.60" stroke="#231f20" stroke-width="1.15" />
<line x1="369.50" y1="308.60" x2="369.50" y2="311.10" stroke="#231f20" stroke-width="0.8" />
<text x="369.50" y="320.50" font-size="6.2" text-anchor="middle" font-weight="normal" font-style="normal" fill="#231f20"  stroke="#231f20" stroke-width="0.14">−6</text>
<line x1="393.00" y1="308.60" x2="393.00" y2="311.10" stroke="#231f20" stroke-width="0.8" />
<text x="393.00" y="320.50" font-size="6.2" text-anchor="middle" font-weight="normal" font-style="normal" fill="#231f20"  stroke="#231f20" stroke-width="0.14">−4</text>
<line x1="416.50" y1="308.60" x2="416.50" y2="311.10" stroke="#231f20" stroke-width="0.8" />
<text x="416.50" y="320.50" font-size="6.2" text-anchor="middle" font-weight="normal" font-style="normal" fill="#231f20"  stroke="#231f20" stroke-width="0.14">−2</text>
<line x1="440.00" y1="308.60" x2="440.00" y2="311.10" stroke="#231f20" stroke-width="0.8" />
<text x="440.00" y="320.50" font-size="6.2" text-anchor="middle" font-weight="normal" font-style="normal" fill="#231f20"  stroke="#231f20" stroke-width="0.14">0</text>
<line x1="463.50" y1="308.60" x2="463.50" y2="311.10" stroke="#231f20" stroke-width="0.8" />
<text x="463.50" y="320.50" font-size="6.2" text-anchor="middle" font-weight="normal" font-style="normal" fill="#231f20"  stroke="#231f20" stroke-width="0.14">2</text>
<line x1="487.00" y1="308.60" x2="487.00" y2="311.10" stroke="#231f20" stroke-width="0.8" />
<text x="487.00" y="320.50" font-size="6.2" text-anchor="middle" font-weight="normal" font-style="normal" fill="#231f20"  stroke="#231f20" stroke-width="0.14">4</text>
<line x1="510.50" y1="308.60" x2="510.50" y2="311.10" stroke="#231f20" stroke-width="0.8" />
<text x="510.50" y="320.50" font-size="6.2" text-anchor="middle" font-weight="normal" font-style="normal" fill="#231f20"  stroke="#231f20" stroke-width="0.14">6</text>
<text x="441.60" y="331.80" font-size="8.3" text-anchor="middle" font-weight="normal" font-style="normal" fill="#231f20" textLength="27.2" lengthAdjust="spacingAndGlyphs" stroke="#231f20" stroke-width="0.14">LDA score</text>
<text x="441.30" y="50.80" font-size="8.55" text-anchor="middle" font-weight="normal" font-style="normal" fill="#231f20"  stroke="#231f20" stroke-width="0.14">Species-level biomarker</text>
<rect x="460.00" y="277.00" width="32.00" height="20.00" fill="#fff" />
<rect x="462.20" y="281.00" width="5.80" height="5.60" fill="#0f4a80" />
<text x="471.00" y="286.10" font-size="6.3" text-anchor="start" font-weight="normal" font-style="normal" fill="#231f20"  stroke="#231f20" stroke-width="0.14">HC</text>
<rect x="462.20" y="290.40" width="5.80" height="5.60" fill="#cc0226" />
<text x="471.00" y="295.50" font-size="6.3" text-anchor="start" font-weight="normal" font-style="normal" fill="#231f20"  stroke="#231f20" stroke-width="0.14">DLBCL</text>
<line x1="69.08" y1="391.20" x2="69.08" y2="656.50" stroke="#3a3a3a" stroke-width="0.85" stroke-dasharray="1 1.05"/>
<line x1="97.24" y1="391.20" x2="97.24" y2="656.50" stroke="#3a3a3a" stroke-width="0.85" stroke-dasharray="1 1.05"/>
<line x1="153.56" y1="391.20" x2="153.56" y2="656.50" stroke="#3a3a3a" stroke-width="0.85" stroke-dasharray="1 1.05"/>
<line x1="181.72" y1="391.20" x2="181.72" y2="656.50" stroke="#3a3a3a" stroke-width="0.85" stroke-dasharray="1 1.05"/>
<rect x="125.40" y="397.10" width="54.00" height="6.50" fill="#0f4a80" stroke="#082a55" stroke-width="0.6"/>
<line x1="37.40" y1="400.35" x2="40.60" y2="400.35" stroke="#231f20" stroke-width="0.8" />
<text x="34.90" y="402.65" font-size="6.3" text-anchor="end" font-weight="normal" font-style="italic" fill="#231f20" letter-spacing="0.1" stroke="none">K21572</text>
<rect x="125.40" y="409.51" width="53.20" height="6.50" fill="#0f4a80" stroke="#082a55" stroke-width="0.6"/>
<line x1="37.40" y1="412.76" x2="40.60" y2="412.76" stroke="#231f20" stroke-width="0.8" />
<text x="34.90" y="415.06" font-size="6.3" text-anchor="end" font-weight="normal" font-style="italic" fill="#231f20" letter-spacing="0.1" stroke="none">K05349</text>
<rect x="125.40" y="421.92" width="52.70" height="6.50" fill="#0f4a80" stroke="#082a55" stroke-width="0.6"/>
<line x1="37.40" y1="425.17" x2="40.60" y2="425.17" stroke="#231f20" stroke-width="0.8" />
<text x="34.90" y="427.47" font-size="6.3" text-anchor="end" font-weight="normal" font-style="italic" fill="#231f20" letter-spacing="0.1" stroke="none">K06147</text>
<rect x="125.40" y="434.33" width="52.00" height="6.50" fill="#0f4a80" stroke="#082a55" stroke-width="0.6"/>
<line x1="37.40" y1="437.58" x2="40.60" y2="437.58" stroke="#231f20" stroke-width="0.8" />
<text x="34.90" y="439.88" font-size="6.3" text-anchor="end" font-weight="normal" font-style="italic" fill="#231f20" letter-spacing="0.1" stroke="none">K07133</text>
<rect x="125.40" y="446.74" width="51.20" height="6.50" fill="#0f4a80" stroke="#082a55" stroke-width="0.6"/>
<line x1="37.40" y1="449.99" x2="40.60" y2="449.99" stroke="#231f20" stroke-width="0.8" />
<text x="34.90" y="452.29" font-size="6.3" text-anchor="end" font-weight="normal" font-style="italic" fill="#231f20" letter-spacing="0.1" stroke="none">K01190</text>
<rect x="125.40" y="459.15" width="49.30" height="6.50" fill="#0f4a80" stroke="#082a55" stroke-width="0.6"/>
<line x1="37.40" y1="462.40" x2="40.60" y2="462.40" stroke="#231f20" stroke-width="0.8" />
<text x="34.90" y="464.70" font-size="6.3" text-anchor="end" font-weight="normal" font-style="italic" fill="#231f20" letter-spacing="0.1" stroke="none">K02004</text>
<rect x="125.40" y="471.56" width="48.50" height="6.50" fill="#0f4a80" stroke="#082a55" stroke-width="0.6"/>
<line x1="37.40" y1="474.81" x2="40.60" y2="474.81" stroke="#231f20" stroke-width="0.8" />
<text x="34.90" y="477.11" font-size="6.3" text-anchor="end" font-weight="normal" font-style="italic" fill="#231f20" letter-spacing="0.1" stroke="none">K01955</text>
<rect x="125.40" y="483.97" width="47.70" height="6.50" fill="#0f4a80" stroke="#082a55" stroke-width="0.6"/>
<line x1="37.40" y1="487.22" x2="40.60" y2="487.22" stroke="#231f20" stroke-width="0.8" />
<text x="34.90" y="489.52" font-size="6.3" text-anchor="end" font-weight="normal" font-style="italic" fill="#231f20" letter-spacing="0.1" stroke="none">K03046</text>
<rect x="125.40" y="496.38" width="47.30" height="6.50" fill="#0f4a80" stroke="#082a55" stroke-width="0.6"/>
<line x1="37.40" y1="499.63" x2="40.60" y2="499.63" stroke="#231f20" stroke-width="0.8" />
<text x="34.90" y="501.93" font-size="6.3" text-anchor="end" font-weight="normal" font-style="italic" fill="#231f20" letter-spacing="0.1" stroke="none">K03654</text>
<rect x="125.40" y="508.79" width="47.30" height="6.50" fill="#0f4a80" stroke="#082a55" stroke-width="0.6"/>
<line x1="37.40" y1="512.04" x2="40.60" y2="512.04" stroke="#231f20" stroke-width="0.8" />
<text x="34.90" y="514.34" font-size="6.3" text-anchor="end" font-weight="normal" font-style="italic" fill="#231f20" letter-spacing="0.1" stroke="none">K03737</text>
<rect x="83.40" y="521.20" width="42.00" height="6.50" fill="#cc0226" stroke="#8a0a20" stroke-width="0.6"/>
<line x1="37.40" y1="524.45" x2="40.60" y2="524.45" stroke="#231f20" stroke-width="0.8" />
<text x="34.90" y="526.75" font-size="6.3" text-anchor="end" font-weight="normal" font-style="italic" fill="#231f20" letter-spacing="0.1" stroke="none">K00525</text>
<rect x="83.40" y="533.61" width="42.00" height="6.50" fill="#cc0226" stroke="#8a0a20" stroke-width="0.6"/>
<line x1="37.40" y1="536.86" x2="40.60" y2="536.86" stroke="#231f20" stroke-width="0.8" />
<text x="34.90" y="539.16" font-size="6.3" text-anchor="end" font-weight="normal" font-style="italic" fill="#231f20" letter-spacing="0.1" stroke="none">K00362</text>
<rect x="83.10" y="546.02" width="42.30" height="6.50" fill="#cc0226" stroke="#8a0a20" stroke-width="0.6"/>
<line x1="37.40" y1="549.27" x2="40.60" y2="549.27" stroke="#231f20" stroke-width="0.8" />
<text x="34.90" y="551.57" font-size="6.3" text-anchor="end" font-weight="normal" font-style="italic" fill="#231f20" letter-spacing="0.1" stroke="none">K02014</text>
<rect x="82.40" y="558.43" width="43.00" height="6.50" fill="#cc0226" stroke="#8a0a20" stroke-width="0.6"/>
<line x1="37.40" y1="561.68" x2="40.60" y2="561.68" stroke="#231f20" stroke-width="0.8" />
<text x="34.90" y="563.98" font-size="6.3" text-anchor="end" font-weight="normal" font-style="italic" fill="#231f20" letter-spacing="0.1" stroke="none">K07498</text>
<rect x="82.40" y="570.84" width="43.00" height="6.50" fill="#cc0226" stroke="#8a0a20" stroke-width="0.6"/>
<line x1="37.40" y1="574.09" x2="40.60" y2="574.09" stroke="#231f20" stroke-width="0.8" />
<text x="34.90" y="576.39" font-size="6.3" text-anchor="end" font-weight="normal" font-style="italic" fill="#231f20" letter-spacing="0.1" stroke="none">K07497</text>
<rect x="82.30" y="583.25" width="43.10" height="6.50" fill="#cc0226" stroke="#8a0a20" stroke-width="0.6"/>
<line x1="37.40" y1="586.50" x2="40.60" y2="586.50" stroke="#231f20" stroke-width="0.8" />
<text x="34.90" y="588.80" font-size="6.3" text-anchor="end" font-weight="normal" font-style="italic" fill="#231f20" letter-spacing="0.1" stroke="none">K00370</text>
<rect x="81.40" y="595.66" width="44.00" height="6.50" fill="#cc0226" stroke="#8a0a20" stroke-width="0.6"/>
<line x1="37.40" y1="598.91" x2="40.60" y2="598.91" stroke="#231f20" stroke-width="0.8" />
<text x="34.90" y="601.21" font-size="6.3" text-anchor="end" font-weight="normal" font-style="italic" fill="#231f20" letter-spacing="0.1" stroke="none">K06894</text>
<rect x="80.70" y="608.07" width="44.70" height="6.50" fill="#cc0226" stroke="#8a0a20" stroke-width="0.6"/>
<line x1="37.40" y1="611.32" x2="40.60" y2="611.32" stroke="#231f20" stroke-width="0.8" />
<text x="34.90" y="613.62" font-size="6.3" text-anchor="end" font-weight="normal" font-style="italic" fill="#231f20" letter-spacing="0.1" stroke="none">K02761</text>
<rect x="80.40" y="620.48" width="45.00" height="6.50" fill="#cc0226" stroke="#8a0a20" stroke-width="0.6"/>
<line x1="37.40" y1="623.73" x2="40.60" y2="623.73" stroke="#231f20" stroke-width="0.8" />
<text x="34.90" y="626.03" font-size="6.3" text-anchor="end" font-weight="normal" font-style="italic" fill="#231f20" letter-spacing="0.1" stroke="none">K20276</text>
<rect x="79.70" y="632.89" width="45.70" height="6.50" fill="#cc0226" stroke="#8a0a20" stroke-width="0.6"/>
<line x1="37.40" y1="636.14" x2="40.60" y2="636.14" stroke="#231f20" stroke-width="0.8" />
<text x="34.90" y="638.44" font-size="6.3" text-anchor="end" font-weight="normal" font-style="italic" fill="#231f20" letter-spacing="0.1" stroke="none">K01223</text>
<rect x="76.60" y="645.30" width="48.80" height="6.50" fill="#cc0226" stroke="#8a0a20" stroke-width="0.6"/>
<line x1="37.40" y1="648.55" x2="40.60" y2="648.55" stroke="#231f20" stroke-width="0.8" />
<text x="34.90" y="650.85" font-size="6.3" text-anchor="end" font-weight="normal" font-style="italic" fill="#231f20" letter-spacing="0.1" stroke="none">K07347</text>
<line x1="125.40" y1="391.20" x2="125.40" y2="656.50" stroke="#444" stroke-width="0.8" />
<line x1="40.50" y1="391.20" x2="40.50" y2="659.50" stroke="#231f20" stroke-width="1.1" />
<line x1="40.50" y1="656.50" x2="212.60" y2="656.50" stroke="#231f20" stroke-width="1.15" />
<line x1="40.92" y1="656.50" x2="40.92" y2="659.00" stroke="#231f20" stroke-width="0.8" />
<text x="40.92" y="667.50" font-size="6.2" text-anchor="middle" font-weight="normal" font-style="normal" fill="#231f20"  stroke="#231f20" stroke-width="0.14">−6</text>
<line x1="69.08" y1="656.50" x2="69.08" y2="659.00" stroke="#231f20" stroke-width="0.8" />
<text x="69.08" y="667.50" font-size="6.2" text-anchor="middle" font-weight="normal" font-style="normal" fill="#231f20"  stroke="#231f20" stroke-width="0.14">−4</text>
<line x1="97.24" y1="656.50" x2="97.24" y2="659.00" stroke="#231f20" stroke-width="0.8" />
<text x="97.24" y="667.50" font-size="6.2" text-anchor="middle" font-weight="normal" font-style="normal" fill="#231f20"  stroke="#231f20" stroke-width="0.14">−2</text>
<line x1="125.40" y1="656.50" x2="125.40" y2="659.00" stroke="#231f20" stroke-width="0.8" />
<text x="125.40" y="667.50" font-size="6.2" text-anchor="middle" font-weight="normal" font-style="normal" fill="#231f20"  stroke="#231f20" stroke-width="0.14">0</text>
<line x1="153.56" y1="656.50" x2="153.56" y2="659.00" stroke="#231f20" stroke-width="0.8" />
<text x="153.56" y="667.50" font-size="6.2" text-anchor="middle" font-weight="normal" font-style="normal" fill="#231f20"  stroke="#231f20" stroke-width="0.14">2</text>
<line x1="181.72" y1="656.50" x2="181.72" y2="659.00" stroke="#231f20" stroke-width="0.8" />
<text x="181.72" y="667.50" font-size="6.2" text-anchor="middle" font-weight="normal" font-style="normal" fill="#231f20"  stroke="#231f20" stroke-width="0.14">4</text>
<line x1="209.88" y1="656.50" x2="209.88" y2="659.00" stroke="#231f20" stroke-width="0.8" />
<text x="209.88" y="667.50" font-size="6.2" text-anchor="middle" font-weight="normal" font-style="normal" fill="#231f20"  stroke="#231f20" stroke-width="0.14">6</text>
<text x="127.00" y="679.40" font-size="8.3" text-anchor="middle" font-weight="normal" font-style="normal" fill="#231f20" textLength="27.5" lengthAdjust="spacingAndGlyphs" stroke="#231f20" stroke-width="0.14">LDA score</text>
<text x="126.50" y="386.20" font-size="8.6" text-anchor="middle" font-weight="normal" font-style="normal" fill="#231f20"  stroke="#231f20" stroke-width="0.14">Functional biomarker</text>
<rect x="44.00" y="395.00" width="40.00" height="23.00" fill="#fff" />
<rect x="46.80" y="398.00" width="5.60" height="5.60" fill="#0f4a80" />
<text x="55.60" y="403.20" font-size="7.2" text-anchor="start" font-weight="normal" font-style="normal" fill="#231f20"  stroke="#231f20" stroke-width="0.14">HC</text>
<rect x="46.80" y="409.00" width="5.60" height="5.70" fill="#cc0226" />
<text x="55.60" y="414.00" font-size="7.2" text-anchor="start" font-weight="normal" font-style="normal" fill="#231f20"  stroke="#231f20" stroke-width="0.14">DLBCL</text>
<rect x="221.60" y="384.60" width="291.90" height="12.70" fill="#e9e7f3" />
<text x="266.70" y="393.10" font-size="6.6" text-anchor="end" font-weight="bold" font-style="normal" fill="#000" stroke="#000" stroke-width="0.2">Gene</text>
<text x="416.40" y="393.10" font-size="6.6" text-anchor="end" font-weight="bold" font-style="normal" fill="#000" stroke="#000" stroke-width="0.2">Protein</text>
<text x="510.50" y="393.10" font-size="6.6" text-anchor="end" font-weight="bold" font-style="normal" fill="#000" stroke="#000" stroke-width="0.2">Function</text>
<rect x="221.60" y="397.30" width="291.90" height="12.35" fill="#c0c3dd" />
<text x="267.10" y="405.98" font-size="6.3" text-anchor="end" font-weight="bold" font-style="italic" fill="#111" stroke="#111" stroke-width="0.12">susD</text>
<text x="416.20" y="405.98" font-size="6.55" text-anchor="end" font-weight="normal" font-style="normal" fill="#1a1a1a" stroke="#1a1a1a" stroke-width="0.06">Starch-binding protein SusD</text>
<text x="510.30" y="405.98" font-size="6.55" text-anchor="end" font-weight="normal" font-style="normal" fill="#1a1a1a" stroke="#1a1a1a" stroke-width="0.06">Carbohydrate metabolism</text>
<rect x="221.60" y="409.65" width="291.90" height="12.35" fill="#e7e9f5" />
<text x="267.10" y="418.33" font-size="6.3" text-anchor="end" font-weight="bold" font-style="italic" fill="#111" stroke="#111" stroke-width="0.12">bglX</text>
<text x="416.20" y="418.33" font-size="6.55" text-anchor="end" font-weight="normal" font-style="normal" fill="#1a1a1a" stroke="#1a1a1a" stroke-width="0.06">Beta-glucosidase</text>
<text x="510.30" y="418.33" font-size="6.55" text-anchor="end" font-weight="normal" font-style="normal" fill="#1a1a1a" stroke="#1a1a1a" stroke-width="0.06">Carbohydrate metabolism</text>
<rect x="221.60" y="422.00" width="291.90" height="12.35" fill="#c0c3dd" />
<text x="267.10" y="430.68" font-size="6.3" text-anchor="end" font-weight="bold" font-style="italic" fill="#111" stroke="#111" stroke-width="0.12">ABCB-BAC</text>
<text x="416.20" y="430.68" font-size="6.55" text-anchor="end" font-weight="normal" font-style="normal" fill="#1a1a1a" stroke="#1a1a1a" stroke-width="0.06">ATP-binding cassette, subfamily B, bacterial</text>
<text x="510.30" y="430.68" font-size="6.55" text-anchor="end" font-weight="normal" font-style="normal" fill="#1a1a1a" stroke="#1a1a1a" stroke-width="0.06">ABC transporter</text>
<rect x="221.60" y="434.35" width="291.90" height="12.35" fill="#e7e9f5" />
<text x="267.10" y="443.02" font-size="6.3" text-anchor="end" font-weight="bold" font-style="italic" fill="#111" stroke="#111" stroke-width="0.12"></text>
<text x="416.20" y="443.02" font-size="6.55" text-anchor="end" font-weight="normal" font-style="normal" fill="#1a1a1a" stroke="#1a1a1a" stroke-width="0.06">Uncharacterized protein</text>
<text x="510.30" y="443.02" font-size="6.55" text-anchor="end" font-weight="normal" font-style="normal" fill="#1a1a1a" stroke="#1a1a1a" stroke-width="0.06">Unknown</text>
<rect x="221.60" y="446.70" width="291.90" height="12.35" fill="#c0c3dd" />
<text x="267.10" y="455.38" font-size="6.3" text-anchor="end" font-weight="bold" font-style="italic" fill="#111" stroke="#111" stroke-width="0.12">lacZ</text>
<text x="416.20" y="455.38" font-size="6.55" text-anchor="end" font-weight="normal" font-style="normal" fill="#1a1a1a" stroke="#1a1a1a" stroke-width="0.06">Beta-galactosidase of Escherichia coli</text>
<text x="510.30" y="455.38" font-size="6.55" text-anchor="end" font-weight="normal" font-style="normal" fill="#1a1a1a" stroke="#1a1a1a" stroke-width="0.06">Carbohydrate metabolism</text>
<rect x="221.60" y="459.05" width="291.90" height="12.35" fill="#e7e9f5" />
<text x="267.10" y="467.73" font-size="6.3" text-anchor="end" font-weight="bold" font-style="italic" fill="#111" stroke="#111" stroke-width="0.12">ABC.CD.P</text>
<text x="416.20" y="467.73" font-size="6.55" text-anchor="end" font-weight="normal" font-style="normal" fill="#1a1a1a" stroke="#1a1a1a" stroke-width="0.06">ABC transporter related protein</text>
<text x="510.30" y="467.73" font-size="6.55" text-anchor="end" font-weight="normal" font-style="normal" fill="#1a1a1a" stroke="#1a1a1a" stroke-width="0.06">ABC transporter</text>
<rect x="221.60" y="471.40" width="291.90" height="12.35" fill="#c0c3dd" />
<text x="267.10" y="480.07" font-size="6.3" text-anchor="end" font-weight="bold" font-style="italic" fill="#111" stroke="#111" stroke-width="0.12">carB</text>
<text x="416.20" y="480.07" font-size="6.55" text-anchor="end" font-weight="normal" font-style="normal" fill="#1a1a1a" stroke="#1a1a1a" stroke-width="0.06">Carbamoyl-phosphate synthase large subunit</text>
<text x="510.30" y="480.07" font-size="6.55" text-anchor="end" font-weight="normal" font-style="normal" fill="#1a1a1a" stroke="#1a1a1a" stroke-width="0.06">Amino acid metabolism</text>
<rect x="221.60" y="483.75" width="291.90" height="12.35" fill="#e7e9f5" />
<text x="267.10" y="492.43" font-size="6.3" text-anchor="end" font-weight="bold" font-style="italic" fill="#111" stroke="#111" stroke-width="0.12">rpoC</text>
<text x="416.20" y="492.43" font-size="6.55" text-anchor="end" font-weight="normal" font-style="normal" fill="#1a1a1a" stroke="#1a1a1a" stroke-width="0.06">DNA-directed RNA polymerase subunit beta</text>
<text x="510.30" y="492.43" font-size="6.55" text-anchor="end" font-weight="normal" font-style="normal" fill="#1a1a1a" stroke="#1a1a1a" stroke-width="0.06">RNA polymerase</text>
<rect x="221.60" y="496.10" width="291.90" height="12.35" fill="#c0c3dd" />
<text x="267.10" y="504.77" font-size="6.3" text-anchor="end" font-weight="bold" font-style="italic" fill="#111" stroke="#111" stroke-width="0.12">recQ</text>
<text x="416.20" y="504.77" font-size="6.55" text-anchor="end" font-weight="normal" font-style="normal" fill="#1a1a1a" stroke="#1a1a1a" stroke-width="0.06">ATP-dependent DNA helicase RecQ</text>
<text x="510.30" y="504.77" font-size="6.55" text-anchor="end" font-weight="normal" font-style="normal" fill="#1a1a1a" stroke="#1a1a1a" stroke-width="0.06">DNA helicase</text>
<rect x="221.60" y="508.45" width="291.90" height="12.35" fill="#e7e9f5" />
<text x="267.10" y="517.12" font-size="6.3" text-anchor="end" font-weight="bold" font-style="italic" fill="#111" stroke="#111" stroke-width="0.12">Por, nifJ</text>
<text x="416.20" y="517.12" font-size="6.55" text-anchor="end" font-weight="normal" font-style="normal" fill="#1a1a1a" stroke="#1a1a1a" stroke-width="0.06">Pyruvate-ferredoxin/flavodoxin oxidoreductase</text>
<text x="510.30" y="517.12" font-size="6.55" text-anchor="end" font-weight="normal" font-style="normal" fill="#1a1a1a" stroke="#1a1a1a" stroke-width="0.06">Carbohydrate metabolism</text>
<rect x="221.60" y="522.20" width="291.90" height="12.20" fill="#fbe6e3" />
<text x="267.10" y="530.80" font-size="6.3" text-anchor="end" font-weight="bold" font-style="italic" fill="#111" stroke="#111" stroke-width="0.12">nrdA, nrdE</text>
<text x="416.20" y="530.80" font-size="6.55" text-anchor="end" font-weight="normal" font-style="normal" fill="#1a1a1a" stroke="#1a1a1a" stroke-width="0.06">Ribonucleoside-diphosphate reductase alpha</text>
<text x="510.30" y="530.80" font-size="6.55" text-anchor="end" font-weight="normal" font-style="normal" fill="#1a1a1a" stroke="#1a1a1a" stroke-width="0.06">Amino acid metabolism</text>
<rect x="221.60" y="534.40" width="291.90" height="12.20" fill="#f4c0bb" />
<text x="267.10" y="543.00" font-size="6.3" text-anchor="end" font-weight="bold" font-style="italic" fill="#111" stroke="#111" stroke-width="0.12">nirB</text>
<text x="416.20" y="543.00" font-size="6.55" text-anchor="end" font-weight="normal" font-style="normal" fill="#1a1a1a" stroke="#1a1a1a" stroke-width="0.06">Nitrite reductase (NADH) large subunit</text>
<text x="510.30" y="543.00" font-size="6.55" text-anchor="end" font-weight="normal" font-style="normal" fill="#1a1a1a" stroke="#1a1a1a" stroke-width="0.06">Nitrogen metabolism</text>
<rect x="221.60" y="546.60" width="291.90" height="12.20" fill="#fbe6e3" />
<text x="267.10" y="555.20" font-size="6.3" text-anchor="end" font-weight="bold" font-style="italic" fill="#111" stroke="#111" stroke-width="0.12">TC.FEV.OM</text>
<text x="416.20" y="555.20" font-size="6.55" text-anchor="end" font-weight="normal" font-style="normal" fill="#1a1a1a" stroke="#1a1a1a" stroke-width="0.06">Iron complex outermembrane receptor protein</text>
<text x="510.30" y="555.20" font-size="6.55" text-anchor="end" font-weight="normal" font-style="normal" fill="#1a1a1a" stroke="#1a1a1a" stroke-width="0.06">Bacterial oxidative respiration</text>
<rect x="221.60" y="558.80" width="291.90" height="12.20" fill="#f4c0bb" />
<text x="267.10" y="567.40" font-size="6.3" text-anchor="end" font-weight="bold" font-style="italic" fill="#111" stroke="#111" stroke-width="0.12"></text>
<text x="416.20" y="567.40" font-size="6.55" text-anchor="end" font-weight="normal" font-style="normal" fill="#1a1a1a" stroke="#1a1a1a" stroke-width="0.06">Putative transposase</text>
<text x="510.30" y="567.40" font-size="6.55" text-anchor="end" font-weight="normal" font-style="normal" fill="#1a1a1a" stroke="#1a1a1a" stroke-width="0.06">ABX resistance</text>
<rect x="221.60" y="571.00" width="291.90" height="12.20" fill="#fbe6e3" />
<text x="267.10" y="579.60" font-size="6.3" text-anchor="end" font-weight="bold" font-style="italic" fill="#111" stroke="#111" stroke-width="0.12"></text>
<text x="416.20" y="579.60" font-size="6.55" text-anchor="end" font-weight="normal" font-style="normal" fill="#1a1a1a" stroke="#1a1a1a" stroke-width="0.06">Putative transposase</text>
<text x="510.30" y="579.60" font-size="6.55" text-anchor="end" font-weight="normal" font-style="normal" fill="#1a1a1a" stroke="#1a1a1a" stroke-width="0.06">ABX resistance</text>
<rect x="221.60" y="583.20" width="291.90" height="12.20" fill="#f4c0bb" />
<text x="267.10" y="591.80" font-size="6.3" text-anchor="end" font-weight="bold" font-style="italic" fill="#111" stroke="#111" stroke-width="0.12">narG, narZ</text>
<text x="416.20" y="591.80" font-size="6.55" text-anchor="end" font-weight="normal" font-style="normal" fill="#1a1a1a" stroke="#1a1a1a" stroke-width="0.06">Nitrate reductase, alpha subunit</text>
<text x="510.30" y="591.80" font-size="6.55" text-anchor="end" font-weight="normal" font-style="normal" fill="#1a1a1a" stroke="#1a1a1a" stroke-width="0.06">Nitrogen metabolism</text>
<rect x="221.60" y="595.40" width="291.90" height="12.20" fill="#fbe6e3" />
<text x="267.10" y="604.00" font-size="6.3" text-anchor="end" font-weight="bold" font-style="italic" fill="#111" stroke="#111" stroke-width="0.12">yfhM</text>
<text x="416.20" y="604.00" font-size="6.55" text-anchor="end" font-weight="normal" font-style="normal" fill="#1a1a1a" stroke="#1a1a1a" stroke-width="0.06">Alpha-2-macroglobulin</text>
<text x="510.30" y="604.00" font-size="6.55" text-anchor="end" font-weight="normal" font-style="normal" fill="#1a1a1a" stroke="#1a1a1a" stroke-width="0.06">Resistance to host AMP</text>
<rect x="221.60" y="607.60" width="291.90" height="12.20" fill="#f4c0bb" />
<text x="267.10" y="616.20" font-size="6.3" text-anchor="end" font-weight="bold" font-style="italic" fill="#111" stroke="#111" stroke-width="0.12">celB, chbC</text>
<text x="416.20" y="616.20" font-size="6.55" text-anchor="end" font-weight="normal" font-style="normal" fill="#1a1a1a" stroke="#1a1a1a" stroke-width="0.06">Cellobiose PTS system EIIC component</text>
<text x="510.30" y="616.20" font-size="6.55" text-anchor="end" font-weight="normal" font-style="normal" fill="#1a1a1a" stroke="#1a1a1a" stroke-width="0.06">Carbohydrate metabolism</text>
<rect x="221.60" y="619.80" width="291.90" height="12.20" fill="#fbe6e3" />
<text x="267.10" y="628.40" font-size="6.3" text-anchor="end" font-weight="bold" font-style="italic" fill="#111" stroke="#111" stroke-width="0.12">bapA</text>
<text x="416.20" y="628.40" font-size="6.55" text-anchor="end" font-weight="normal" font-style="normal" fill="#1a1a1a" stroke="#1a1a1a" stroke-width="0.06">Large repetitive protein</text>
<text x="510.30" y="628.40" font-size="6.55" text-anchor="end" font-weight="normal" font-style="normal" fill="#1a1a1a" stroke="#1a1a1a" stroke-width="0.06">Biofilm formation</text>
<rect x="221.60" y="632.00" width="291.90" height="12.20" fill="#f4c0bb" />
<text x="267.10" y="640.60" font-size="6.3" text-anchor="end" font-weight="bold" font-style="italic" fill="#111" stroke="#111" stroke-width="0.12">bglA</text>
<text x="416.20" y="640.60" font-size="6.55" text-anchor="end" font-weight="normal" font-style="normal" fill="#1a1a1a" stroke="#1a1a1a" stroke-width="0.06">6-phospho-beta-glucosidase</text>
<text x="510.30" y="640.60" font-size="6.55" text-anchor="end" font-weight="normal" font-style="normal" fill="#1a1a1a" stroke="#1a1a1a" stroke-width="0.06">Carbohydrate metabolism</text>
<rect x="221.60" y="644.20" width="291.90" height="12.20" fill="#fbe6e3" />
<text x="267.10" y="652.80" font-size="6.3" text-anchor="end" font-weight="bold" font-style="italic" fill="#111" stroke="#111" stroke-width="0.12">fimD, fimC</text>
<text x="416.20" y="652.80" font-size="6.55" text-anchor="end" font-weight="normal" font-style="normal" fill="#1a1a1a" stroke="#1a1a1a" stroke-width="0.06">Outer membrane usher protein</text>
<text x="510.30" y="652.80" font-size="6.55" text-anchor="end" font-weight="normal" font-style="normal" fill="#1a1a1a" stroke="#1a1a1a" stroke-width="0.06">Type 1 pili</text>
<line x1="221.60" y1="397.30" x2="513.50" y2="397.30" stroke="#5e6888" stroke-width="1.1" />
<line x1="221.60" y1="409.65" x2="513.50" y2="409.65" stroke="#5e6888" stroke-width="1.1" />
<line x1="221.60" y1="422.00" x2="513.50" y2="422.00" stroke="#5e6888" stroke-width="1.1" />
<line x1="221.60" y1="434.35" x2="513.50" y2="434.35" stroke="#5e6888" stroke-width="1.1" />
<line x1="221.60" y1="446.70" x2="513.50" y2="446.70" stroke="#5e6888" stroke-width="1.1" />
<line x1="221.60" y1="459.05" x2="513.50" y2="459.05" stroke="#5e6888" stroke-width="1.1" />
<line x1="221.60" y1="471.40" x2="513.50" y2="471.40" stroke="#5e6888" stroke-width="1.1" />
<line x1="221.60" y1="483.75" x2="513.50" y2="483.75" stroke="#5e6888" stroke-width="1.1" />
<line x1="221.60" y1="496.10" x2="513.50" y2="496.10" stroke="#5e6888" stroke-width="1.1" />
<line x1="221.60" y1="508.45" x2="513.50" y2="508.45" stroke="#5e6888" stroke-width="1.1" />
<line x1="221.60" y1="384.60" x2="513.50" y2="384.60" stroke="#98a4ba" stroke-width="0.9" />
<rect x="221.15" y="520.20" width="292.80" height="2.20" fill="#a999b3" />
<line x1="221.60" y1="384.60" x2="221.60" y2="520.80" stroke="#7c8fb8" stroke-width="0.9" />
<line x1="513.50" y1="384.60" x2="513.50" y2="520.80" stroke="#7c8fb8" stroke-width="0.9" />
<line x1="269.50" y1="384.60" x2="269.50" y2="520.80" stroke="#7e8fb6" stroke-width="1.3" />
<line x1="418.50" y1="384.60" x2="418.50" y2="520.80" stroke="#7e8fb6" stroke-width="1.3" />
<line x1="221.60" y1="534.40" x2="513.50" y2="534.40" stroke="#c65c6c" stroke-width="1.2" />
<line x1="221.60" y1="546.60" x2="513.50" y2="546.60" stroke="#c65c6c" stroke-width="1.2" />
<line x1="221.60" y1="558.80" x2="513.50" y2="558.80" stroke="#c65c6c" stroke-width="1.2" />
<line x1="221.60" y1="571.00" x2="513.50" y2="571.00" stroke="#c65c6c" stroke-width="1.2" />
<line x1="221.60" y1="583.20" x2="513.50" y2="583.20" stroke="#c65c6c" stroke-width="1.2" />
<line x1="221.60" y1="595.40" x2="513.50" y2="595.40" stroke="#c65c6c" stroke-width="1.2" />
<line x1="221.60" y1="607.60" x2="513.50" y2="607.60" stroke="#c65c6c" stroke-width="1.2" />
<line x1="221.60" y1="619.80" x2="513.50" y2="619.80" stroke="#c65c6c" stroke-width="1.2" />
<line x1="221.60" y1="632.00" x2="513.50" y2="632.00" stroke="#c65c6c" stroke-width="1.2" />
<line x1="221.60" y1="644.20" x2="513.50" y2="644.20" stroke="#c65c6c" stroke-width="1.2" />
<line x1="221.60" y1="656.40" x2="513.50" y2="656.40" stroke="#c65c6c" stroke-width="0.9" />
<line x1="221.60" y1="522.20" x2="221.60" y2="656.40" stroke="#c65c6c" stroke-width="0.9" />
<line x1="513.50" y1="522.20" x2="513.50" y2="656.40" stroke="#c65c6c" stroke-width="0.9" />
<line x1="269.50" y1="522.20" x2="269.50" y2="656.40" stroke="#b8283c" stroke-width="0.9" />
<line x1="418.50" y1="522.20" x2="418.50" y2="656.40" stroke="#b8283c" stroke-width="0.9" />
</svg>
<div class="frame"></div>
</body></html>
